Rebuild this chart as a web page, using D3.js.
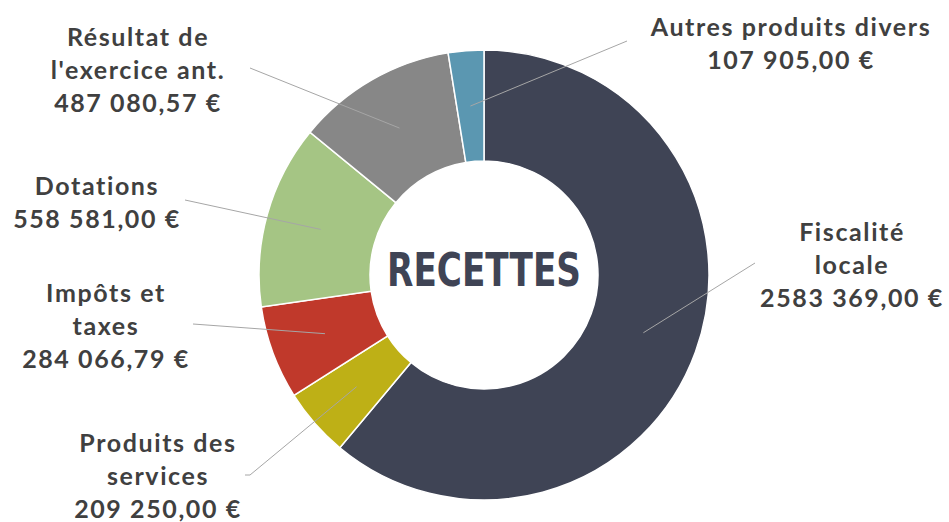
<!DOCTYPE html>
<html>
<head>
<meta charset="utf-8">
<script src="https://cdn.jsdelivr.net/npm/d3@7"></script>
<style>
  body { margin: 0; background: #fff; }
  .lbl { font-family: Lato, "Noto Sans", sans-serif; font-weight: 700; font-size: 25px; letter-spacing: 1.6px; fill: #404040; }
  .title { font-family: "Liberation Sans Narrow", "DejaVu Sans Condensed", sans-serif; font-weight: 700; fill: #3F4455; }
</style>
</head>
<body>
<div id="chart"></div>
<script>
var svgWidth = 949;
var svgHeight = 522;

// data, clockwise from 12 o'clock
var categories = ["Fiscalité locale", "Produits des services", "Impôts et taxes", "Dotations", "Résultat de l'exercice ant.", "Autres produits divers"];
var values = [2583369.00, 209250.00, 284066.79, 558581.00, 487080.57, 107905.00];
var labelLines = [
  ["Fiscalité", "locale"],
  ["Produits des", "services"],
  ["Impôts et", "taxes"],
  ["Dotations"],
  ["Résultat de", "l'exercice ant."],
  ["Autres produits divers"]
];
var colors = ["#3F4455", "#BEB016", "#C0392B", "#A5C584", "#878787", "#5B97B1"];

// label layout (center x, first baseline y) and leader anchor
var labelPos = [
  {x: 852, y: 241, lx: 755, ly: 263},
  {x: 158, y: 452, lx: 245, ly: 475, hook: 250},
  {x: 106, y: 302, lx: 193, ly: 324},
  {x: 97, y: 195, lx: 185, ly: 200},
  {x: 138, y: 46, lx: 250, ly: 68},
  {x: 791, y: 36, lx: 627, ly: 41}
];

var cx = 484, cy = 275;
var outerR = 225, innerR = 114;
var lineH = 33;

var svg = d3.select("#chart")
  .append("svg")
  .attr("width", svgWidth)
  .attr("height", svgHeight);

var g = svg.append("g")
  .attr("transform", `translate(${cx}, ${cy})`);

var pie = d3.pie().sort(null).value(d => d);
var arcs = pie(values);

var arc = d3.arc().innerRadius(innerR).outerRadius(outerR);
var mid = d3.arc().innerRadius((innerR + outerR) / 2).outerRadius((innerR + outerR) / 2);

g.selectAll("path.slice")
  .data(arcs)
  .enter()
  .append("path")
  .attr("class", "slice")
  .attr("d", arc)
  .attr("fill", (d, i) => colors[i])
  .attr("stroke", "#fff")
  .attr("stroke-width", 1.5);

// euro format like "487 080,57 €"
var fmt = d3.formatLocale({decimal: ",", thousands: " ", grouping: [3], currency: ["", " €"]}).format("$,.2f");

// leader lines
svg.selectAll("polyline.leader")
  .data(arcs)
  .enter()
  .append("polyline")
  .attr("class", "leader")
  .attr("fill", "none")
  .attr("stroke", "#A6A6A6")
  .attr("stroke-width", 1)
  .attr("points", function(d, i) {
    var c = mid.centroid(d);
    var p = labelPos[i];
    var pts = [[p.lx, p.ly]];
    if (p.hook) pts.push([p.hook, p.ly]);
    pts.push([cx + c[0], cy + c[1]]);
    return pts.map(q => q.join(",")).join(" ");
  });

// labels
labelPos.forEach(function(p, i) {
  var t = svg.append("text")
    .attr("class", "lbl")
    .attr("text-anchor", "middle");
  var lines = labelLines[i].concat([fmt(values[i]).replace("2 583", "2583")]);
  lines.forEach(function(s, k) {
    t.append("tspan")
      .attr("x", p.x)
      .attr("y", p.y + k * lineH)
      .text(s);
  });
});

// centre title
svg.append("text")
  .attr("class", "title")
  .attr("x", cx)
  .attr("y", 286)
  .attr("text-anchor", "middle")
  .attr("font-size", 46)
  .attr("textLength", 194)
  .attr("lengthAdjust", "spacingAndGlyphs")
  .text("RECETTES");
</script>
</body>
</html>
